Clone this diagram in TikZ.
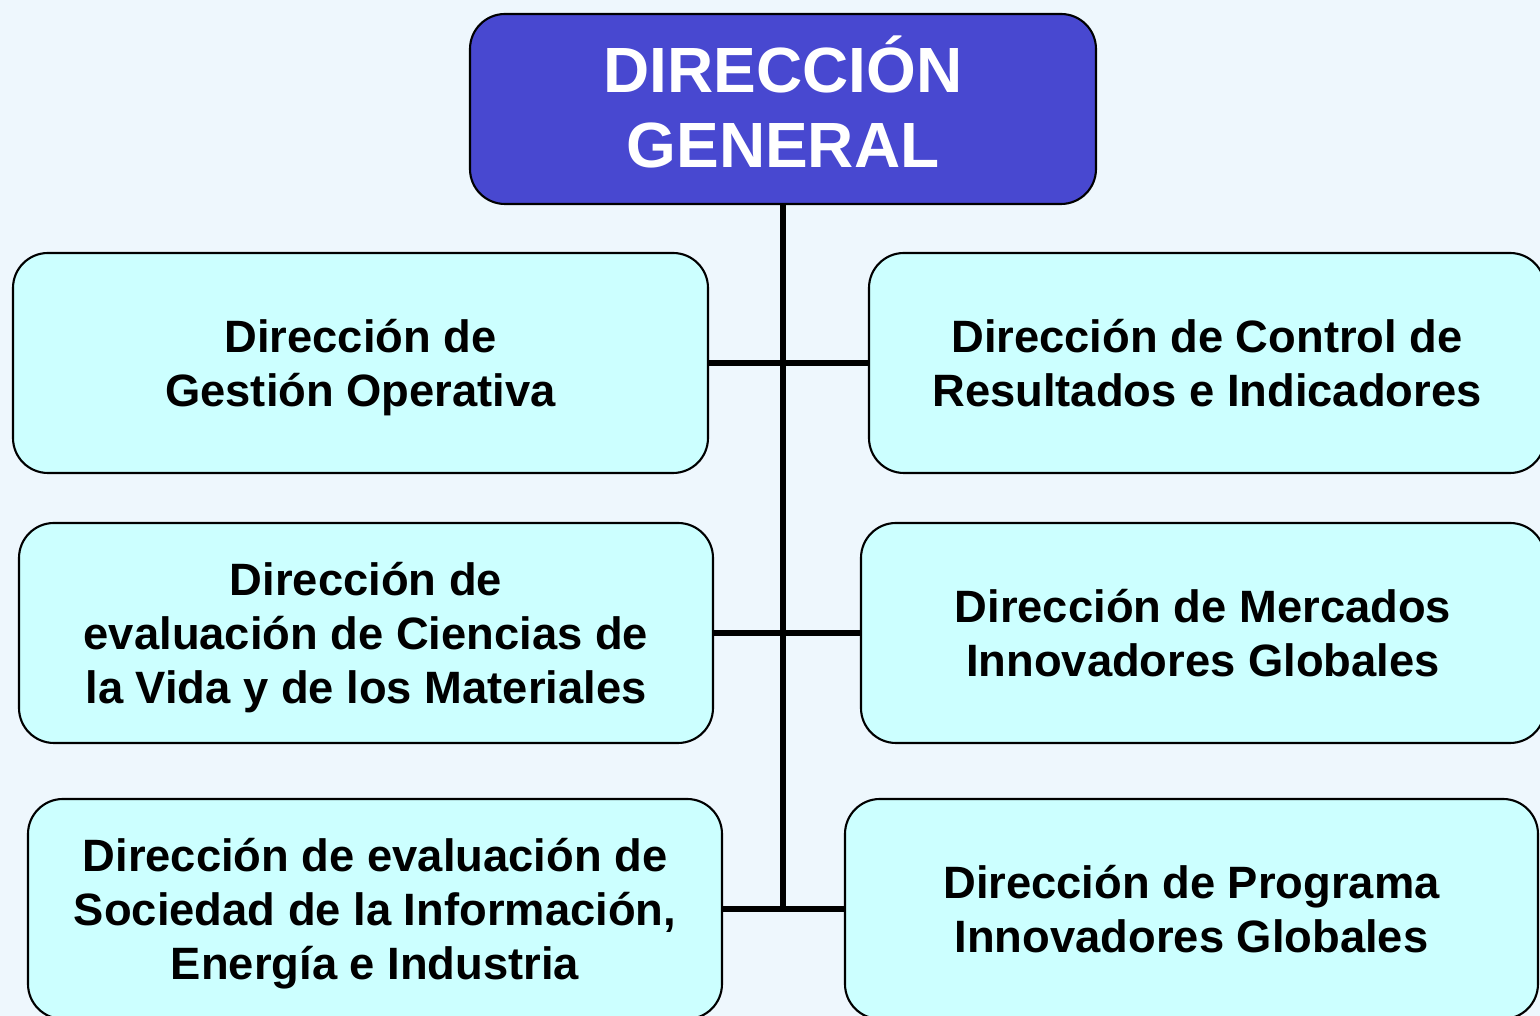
\documentclass[tikz,border=0pt]{standalone}
\usepackage{fontspec}
\setmainfont{Liberation Sans}
\usepackage{tikz}
\usetikzlibrary{shapes}
\definecolor{fondo}{RGB}{238,247,253}
\definecolor{celeste}{RGB}{204,255,255}
\definecolor{azul}{RGB}{72,72,208}
\tikzstyle{edge}=[
	-,
	draw=black,
	line width=1.6pt
]
\tikzstyle{unidad}=[
	rectangle,
	rounded corners=3.5mm,
	draw=black,
	line width=0.6pt,
	fill=celeste,
	align=center,
	inner sep=1mm,
	text depth=0pt,
	font=\fontsize{12.9}{15.4}\selectfont\bfseries
]
\tikzstyle{jefe}=[
	unidad,
	fill=azul,
	text=white,
	font=\fontsize{18.2}{21.3}\selectfont\bfseries
]

\begin{document}
\begin{tikzpicture}
\fill[fondo] (0,0) rectangle (15.4,10.16);
\useasboundingbox (0,0) rectangle (15.4,10.16);

\node[jefe, minimum width=6.26cm, minimum height=1.90cm] at (7.83, 9.07) (dg) {DIRECCIÓN\\GENERAL\\[-0.61cm]};

\foreach \n/\x/\y/\w/\t in {
    gop/3.605/6.53/6.95/{Dirección de\\Gestión Operativa},
    cri/12.07/6.53/6.76/{Dirección de Control de\\Resultados e Indicadores},
    cvm/3.66/3.83/6.94/{Dirección de\\evaluación de Ciencias de\\la Vida y de los Materiales},
    mig/12.03/3.83/6.84/{Dirección de Mercados\\ Innovadores Globales},
    sie/3.75/1.07/6.94/{Dirección de evaluación de\\Sociedad de la Información,\\Energía e Industria},
    pig/11.915/1.07/6.93/{Dirección de Programa\\Innovadores Globales}}{
    \node[unidad, minimum width=\w cm, minimum height=2.2cm] at (\x, \y) (\n) {\t};
}

\coordinate (fin) at (7.83, 1.07);
\draw[edge] (dg) -- (fin);
\draw[edge] (gop) -- (cri);
\draw[edge] (cvm) -- (mig);
\draw[edge] (sie) -- (pig);
\end{tikzpicture}
\end{document}
